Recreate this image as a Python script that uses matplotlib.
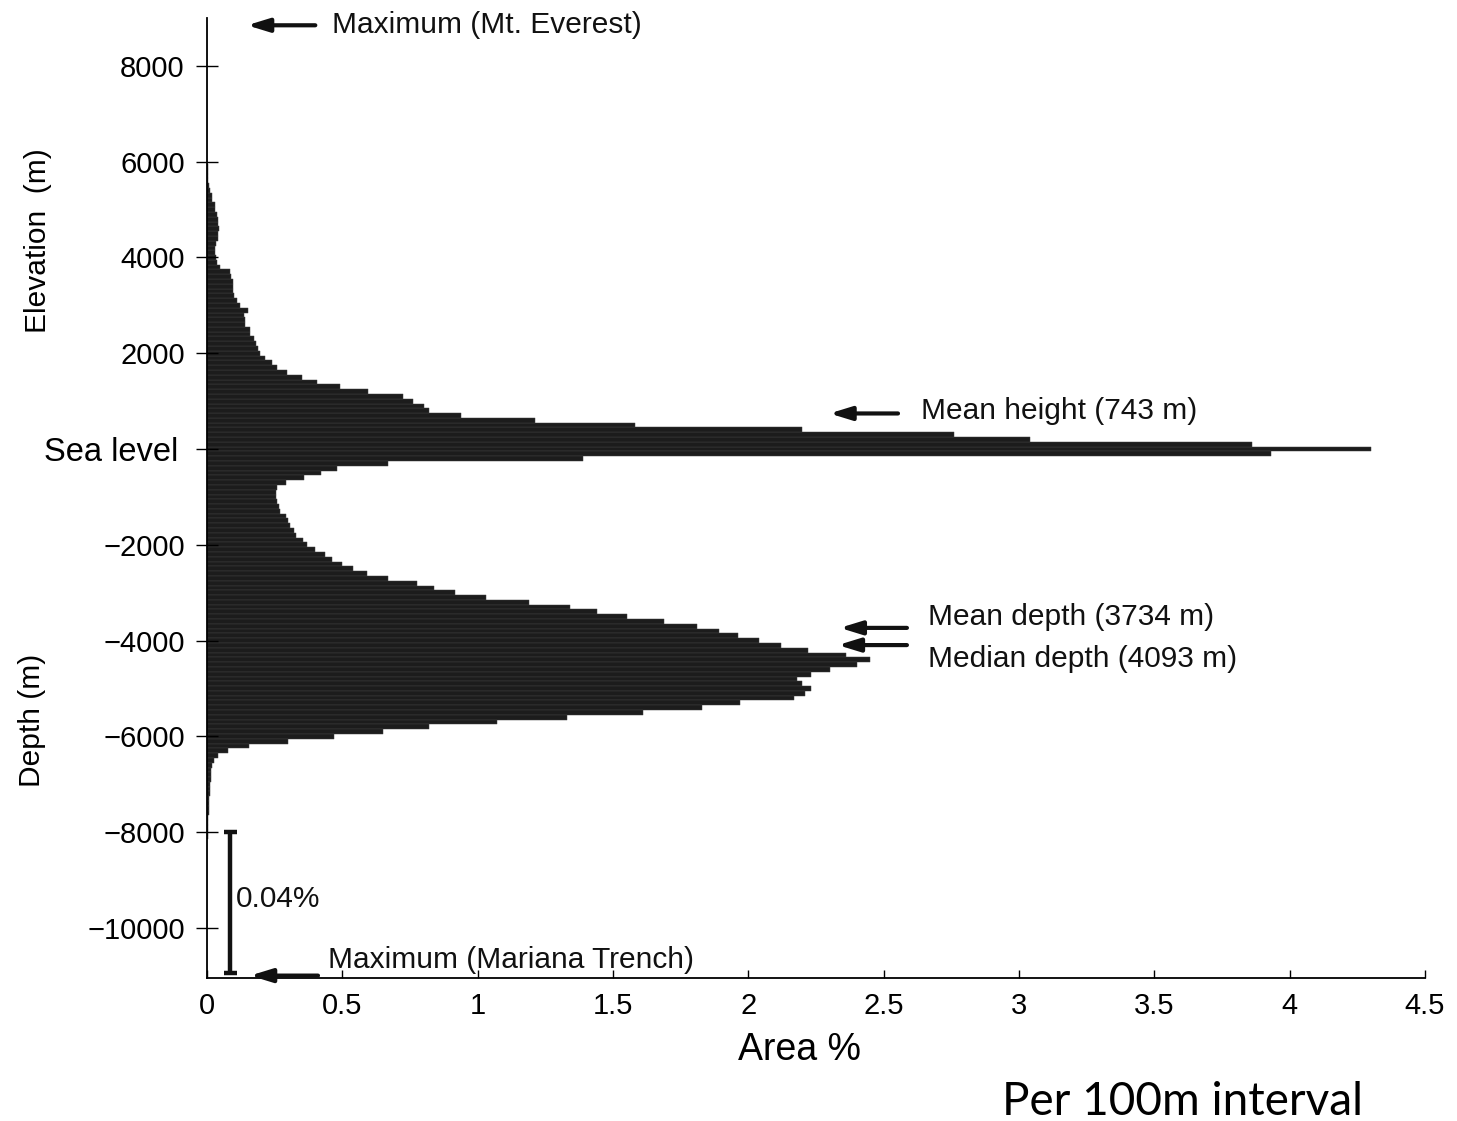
import numpy as np
import matplotlib.pyplot as plt
from matplotlib.transforms import ScaledTranslation

plt.rcParams['font.family'] = ['Liberation Sans', 'DejaVu Sans']

# Area (% of Earth's surface) per 100 m interval, land from sea level upward
land_pct = [
    4.30, 3.86, 3.04, 2.76, 2.20, 1.58, 1.21, 0.94, 0.82, 0.80,
    0.76, 0.725, 0.595, 0.49, 0.405, 0.35, 0.295, 0.26, 0.24, 0.215,
    0.196, 0.19, 0.18, 0.175, 0.16, 0.16, 0.14, 0.14, 0.135, 0.15,
    0.12, 0.11, 0.10, 0.097, 0.097, 0.095, 0.09, 0.085, 0.048, 0.035,
    0.032, 0.03, 0.03, 0.033, 0.04, 0.042, 0.043, 0.042, 0.04, 0.038,
    0.03, 0.03, 0.02, 0.02, 0.012, 0.008, 0.005, 0.004, 0.003, 0.002,
    0.0015, 0.0012, 0.001, 0.0009, 0.0008, 0.0007, 0.0006, 0.0005, 0.0004, 0.0004,
    0.0003, 0.0003, 0.0003, 0.0003, 0.0002, 0.0002, 0.0002, 0.0002, 0.0002, 0.0001,
    0.0001, 0.0001, 0.0001, 0.0001, 0.0001, 0.0001, 0.0001, 0.0001, 0.0001,
]
# ocean, from just below sea level downward
ocean_pct = [
    3.93, 1.39, 0.67, 0.48, 0.42, 0.36, 0.29, 0.26, 0.255, 0.255,
    0.26, 0.265, 0.27, 0.29, 0.30, 0.305, 0.32, 0.33, 0.355, 0.37,
    0.40, 0.435, 0.46, 0.50, 0.54, 0.59, 0.67, 0.775, 0.84, 0.915,
    1.03, 1.19, 1.34, 1.44, 1.55, 1.69, 1.81, 1.89, 1.96, 2.04,
    2.12, 2.22, 2.36, 2.45, 2.40, 2.30, 2.23, 2.18, 2.20, 2.23,
    2.21, 2.17, 1.97, 1.83, 1.61, 1.33, 1.07, 0.82, 0.65, 0.47,
    0.30, 0.155, 0.078, 0.041, 0.026, 0.02, 0.016, 0.015, 0.014, 0.012,
    0.011, 0.01, 0.009, 0.008, 0.007, 0.006, 0.005, 0.004, 0.003, 0.002,
    0.0018, 0.0017, 0.0016, 0.0016, 0.0015, 0.0015, 0.0014, 0.0014, 0.0013, 0.0013,
    0.0013, 0.0012, 0.0012, 0.0012, 0.0011, 0.0011, 0.0011, 0.001, 0.001, 0.001,
    0.0009, 0.0009, 0.0008, 0.0008, 0.0007, 0.0006, 0.0005, 0.0004, 0.0003, 0.0002,
]

y_ticks = [8000, 6000, 4000, 2000, 0, -2000, -4000, -6000, -8000, -10000]
y_ticklabels = ['8000', '6000', '4000', '2000', 'Sea level',
                '\u22122000', '\u22124000', '\u22126000', '\u22128000', '\u221210000']
x_ticks = [0, 0.5, 1, 1.5, 2, 2.5, 3, 3.5, 4, 4.5]
x_ticklabels = ['0', '0.5', '1', '1.5', '2', '2.5', '3', '3.5', '4', '4.5']

everest = 8848
mariana = -10994
mean_height = 743
mean_depth = -3734
median_depth = -4093

land_z = np.arange(len(land_pct)) * 100
ocean_z = -(np.arange(len(ocean_pct)) + 1) * 100

fig = plt.figure(figsize=(14.57, 11.21), dpi=100)
ax = fig.add_axes([0.1421, 0.12757, 0.8359, 0.85637])

bar_kw = dict(height=100, color='#1c1c1c', edgecolor='#404040', linewidth=0.35)
ax.barh(land_z, land_pct, **bar_kw)
ax.barh(ocean_z, ocean_pct, **bar_kw)

ax.set_xlim(0, 4.5)
ax.set_ylim(-11044, 9000)
ax.spines['top'].set_visible(False)
ax.spines['right'].set_visible(False)
for s in ('left', 'bottom'):
    ax.spines[s].set_linewidth(1.3)

ax.set_yticks(y_ticks)
ax.set_yticklabels(y_ticklabels)
ax.set_xticks(x_ticks)
ax.set_xticklabels(x_ticklabels)
ax.tick_params(axis='y', direction='inout', length=16, width=1.0, pad=8, labelsize=21)
ax.tick_params(axis='x', direction='in', length=6, width=1.0, pad=10, labelsize=21)
for lab in ax.get_yticklabels():
    if lab.get_text() == 'Sea level':
        lab.set_fontsize(23.5)
        lab.set_transform(lab.get_transform()
                          + ScaledTranslation(-0.07, 0, fig.dpi_scale_trans))

text_kw = dict(fontsize=21.5, va='center', ha='left', color='#111111')
arrow_kw = dict(arrowstyle='-|>,head_length=0.65,head_width=0.2', lw=3,
                color='#111111', mutation_scale=20, shrinkA=0, shrinkB=0)


def pointer(tip, tail, z):
    ax.annotate('', xy=(tip, z), xytext=(tail, z), arrowprops=arrow_kw)


pointer(0.148, 0.40, everest)
ax.text(0.462, everest, 'Maximum (Mt. Everest)', **text_kw)

pointer(2.30, 2.553, mean_height)
ax.text(2.638, mean_height + 60, 'Mean height (743 m)', **text_kw)

pointer(2.338, 2.586, mean_depth)
ax.text(2.663, -3508, 'Mean depth (3734 m)', **text_kw)

pointer(2.331, 2.586, median_depth)
ax.text(2.663, -4385, 'Median depth (4093 m)', **text_kw)

pointer(0.159, 0.41, mariana)
ax.text(0.447, -10670, 'Maximum (Mariana Trench)', **text_kw)

# bracket spanning everything deeper than 8000 m
bx = 0.085
ax.plot([bx, bx], [-8000, -10950], color='#111111', lw=3.2, solid_capstyle='butt')
for zc in (-8000, -10950):
    ax.plot([bx - 0.024, bx + 0.024], [zc, zc], color='#111111', lw=3.2,
            solid_capstyle='butt')
ax.text(0.107, -9397, '0.04%', **text_kw)

fig.text(800 / 1457, 1 - 1050 / 1121, 'Area %', fontsize=27, ha='center', va='center')
fig.text(38 / 1457, 1 - 241 / 1121, 'Elevation  (m)', fontsize=21.5, rotation=90,
         ha='center', va='center')
fig.text(32 / 1457, 1 - 720 / 1121, 'Depth (m)', fontsize=21.5, rotation=90,
         ha='center', va='center')
fig.text(1182 / 1457, 1 - 1102 / 1121, 'Per 100m interval', fontsize=33,
         family='Lato', ha='center', va='center')

fig.savefig('out.png', dpi=100)
